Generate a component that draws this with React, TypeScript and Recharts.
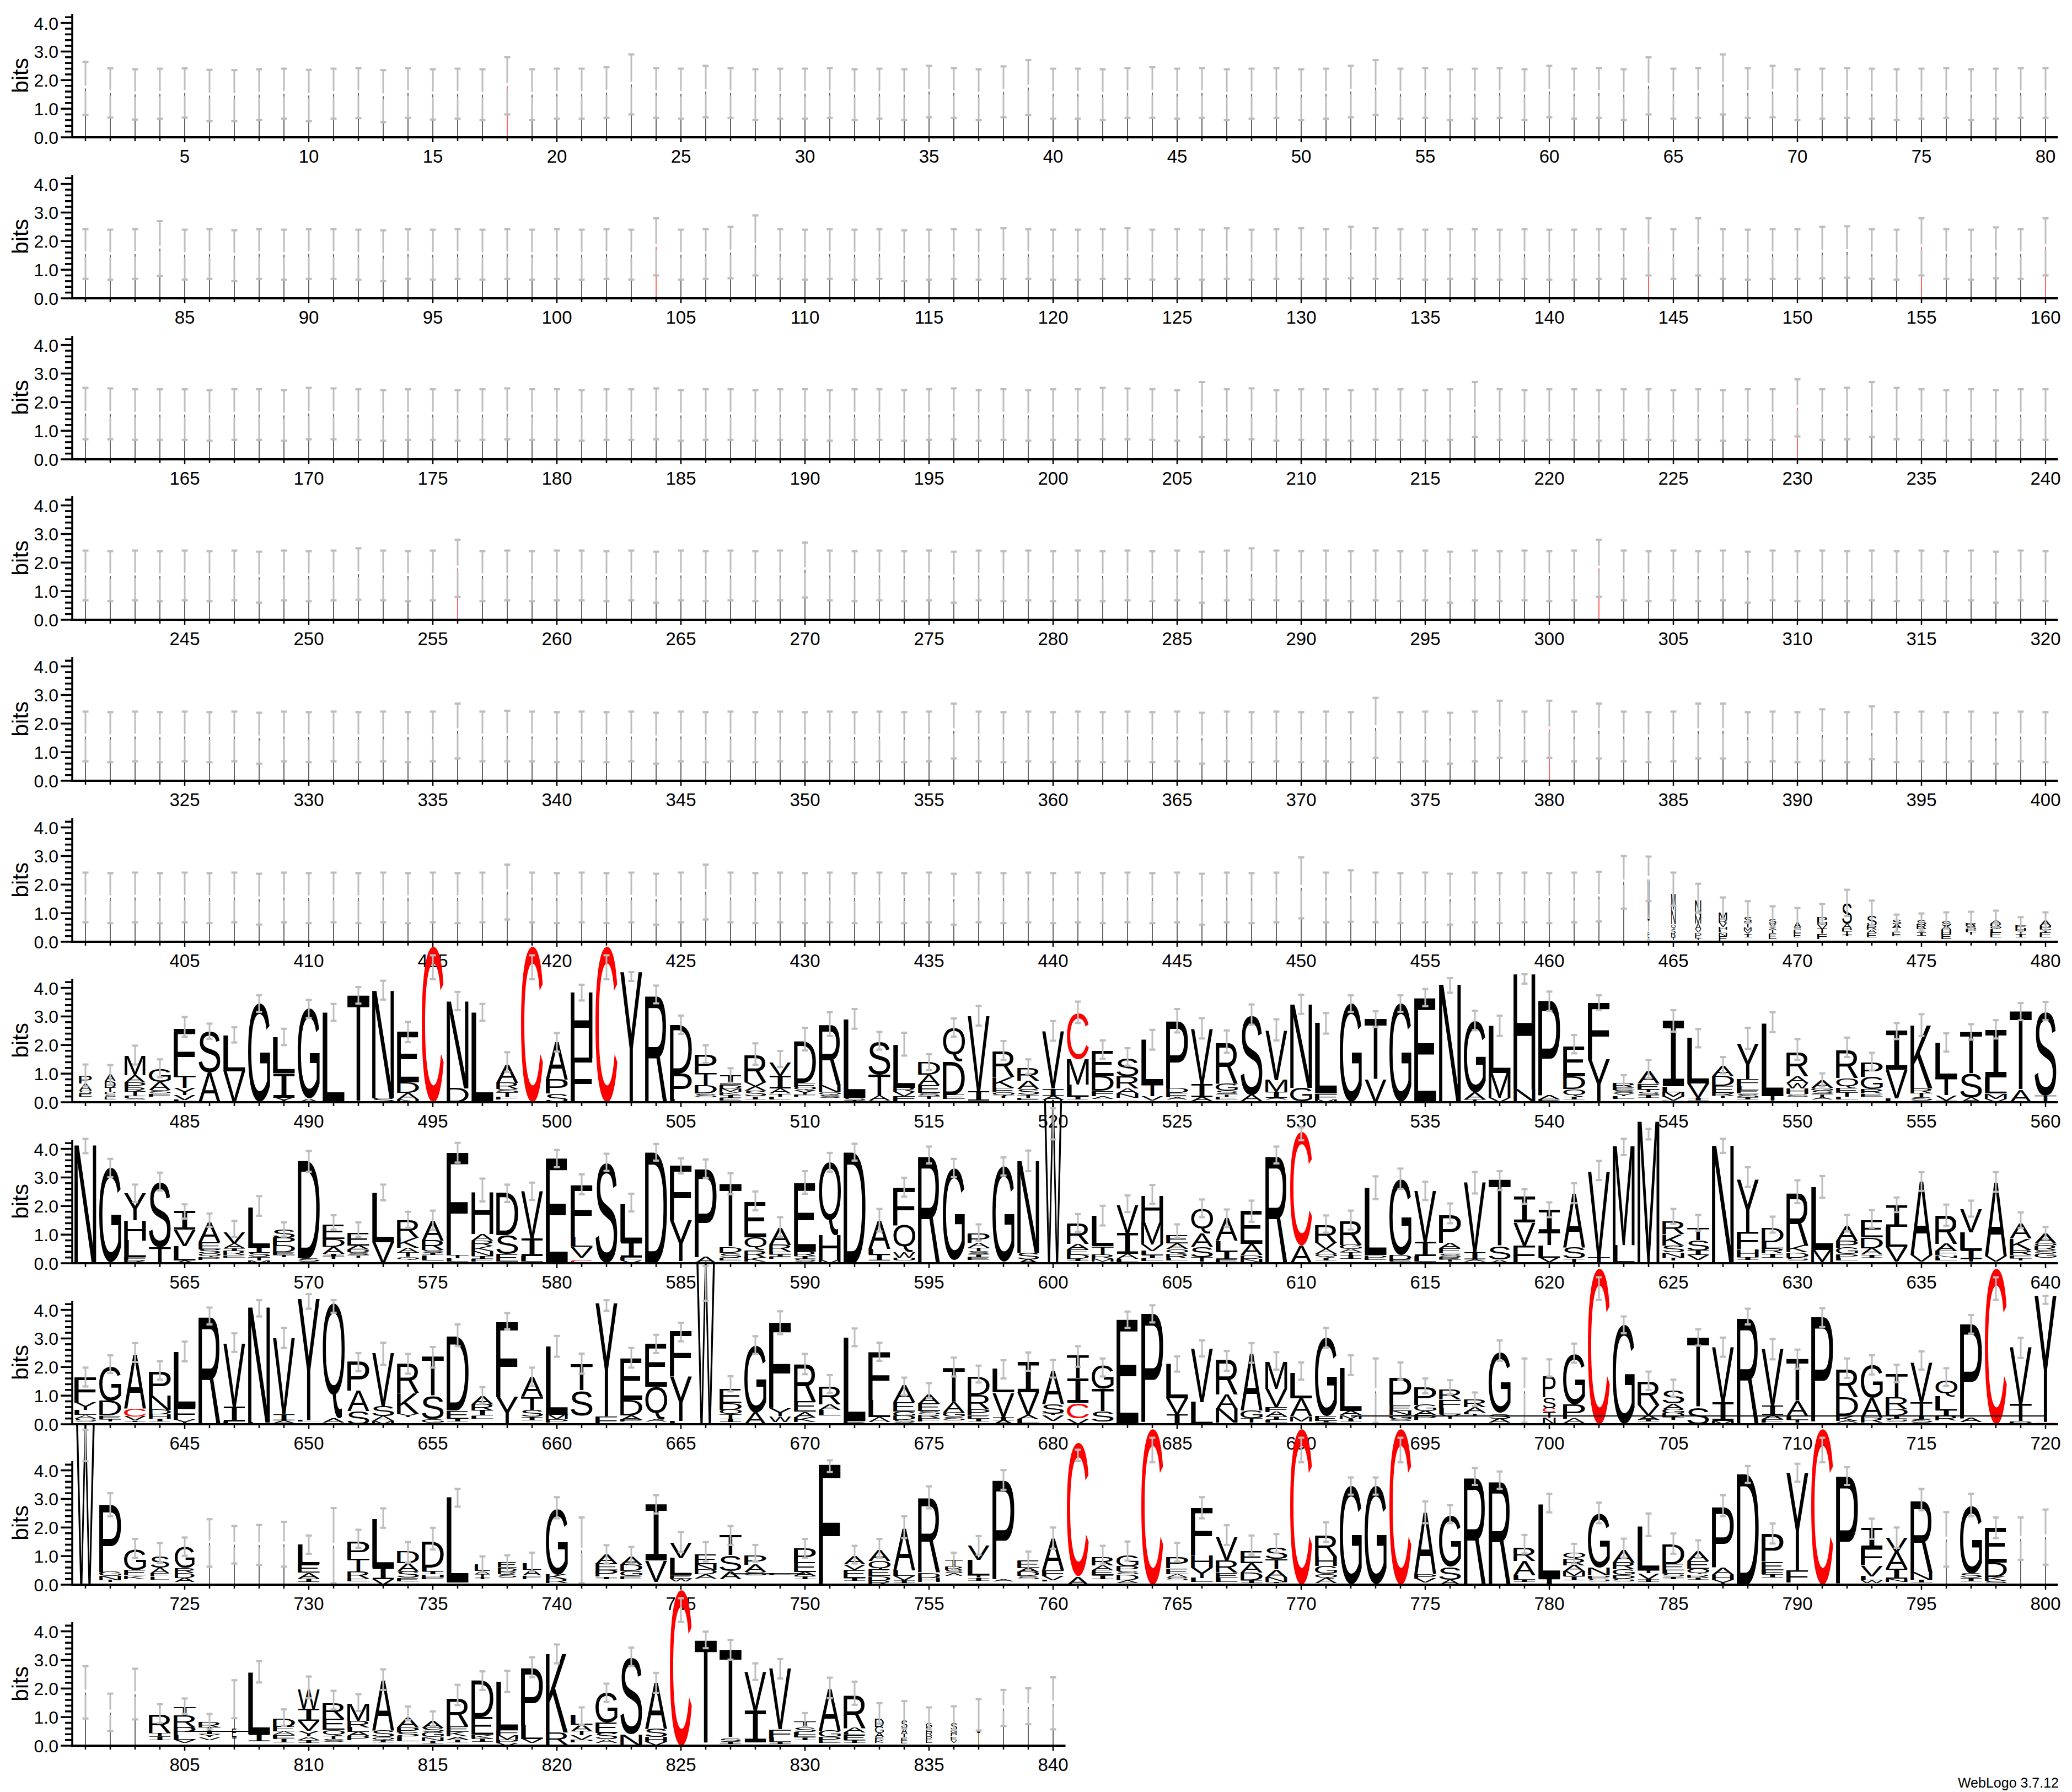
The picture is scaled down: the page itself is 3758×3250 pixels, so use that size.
import React from "react";
import { BarChart, Bar, XAxis, YAxis, ReferenceLine } from "recharts";

// ---- sparse columns: error bar caps, rows 1-6 ----
const errHighRow1 = [
  2.64,2.41,2.38,2.40,2.41,2.36,2.35,2.38,2.40,2.36,
  2.40,2.42,2.35,2.42,2.38,2.40,2.38,2.80,2.38,2.40,
  2.40,2.45,2.90,2.42,2.40,2.50,2.42,2.38,2.40,2.40,
  2.42,2.38,2.40,2.38,2.50,2.42,2.38,2.48,2.70,2.40,
  2.40,2.38,2.42,2.45,2.40,2.42,2.38,2.40,2.42,2.38,
  2.40,2.50,2.70,2.40,2.42,2.38,2.40,2.42,2.38,2.50,
  2.40,2.42,2.38,2.80,2.40,2.42,2.90,2.42,2.50,2.38,
  2.40,2.42,2.40,2.38,2.40,2.42,2.38,2.40,2.42,2.42];
const errLowRow1 = [
  .78,.69,.62,.65,.69,.56,.56,.60,.65,.56,
  .65,.67,.53,.68,.62,.65,.60,.80,.60,.65,
  .65,.68,.80,.68,.65,.70,.68,.60,.65,.65,
  .68,.60,.65,.60,.70,.68,.60,.70,.78,.65,
  .65,.60,.68,.68,.65,.68,.60,.65,.68,.60,
  .65,.70,.78,.65,.68,.60,.65,.68,.60,.70,
  .65,.68,.60,.80,.65,.68,.80,.68,.70,.60,
  .65,.68,.65,.60,.65,.68,.60,.65,.68,.68];
const errHighRow2 = [
  2.42,2.40,2.42,2.70,2.40,2.42,2.38,2.42,2.40,2.42,
  2.42,2.40,2.38,2.42,2.40,2.42,2.40,2.42,2.40,2.42,
  2.40,2.42,2.40,2.80,2.40,2.42,2.50,2.90,2.42,2.40,
  2.42,2.40,2.42,2.38,2.40,2.42,2.40,2.45,2.42,2.40,
  2.40,2.42,2.45,2.40,2.42,2.40,2.45,2.40,2.42,2.45,
  2.42,2.50,2.45,2.42,2.40,2.42,2.42,2.40,2.42,2.40,
  2.40,2.42,2.42,2.80,2.42,2.80,2.42,2.40,2.42,2.42,
  2.50,2.52,2.42,2.40,2.80,2.42,2.40,2.48,2.42,2.80];
const errLowRow2 = [
  .68,.65,.68,.78,.65,.68,.60,.68,.65,.68,
  .68,.65,.60,.68,.65,.68,.65,.68,.65,.68,
  .65,.68,.65,.80,.65,.68,.70,.80,.68,.65,
  .68,.65,.68,.60,.65,.68,.65,.68,.68,.65,
  .65,.68,.68,.65,.68,.65,.68,.65,.68,.68,
  .68,.70,.68,.68,.65,.68,.68,.65,.68,.65,
  .65,.68,.68,.80,.68,.80,.68,.65,.68,.68,
  .70,.72,.68,.65,.80,.68,.65,.70,.68,.80];
const errHighRow3 = [
  2.50,2.48,2.45,2.45,2.45,2.42,2.45,2.45,2.42,2.50,
  2.48,2.45,2.42,2.45,2.45,2.42,2.45,2.48,2.45,2.45,
  2.42,2.45,2.45,2.48,2.42,2.45,2.45,2.42,2.45,2.45,
  2.42,2.45,2.45,2.42,2.45,2.48,2.42,2.45,2.42,2.45,
  2.45,2.50,2.48,2.45,2.42,2.70,2.45,2.48,2.42,2.45,
  2.45,2.42,2.45,2.45,2.42,2.45,2.70,2.45,2.42,2.45,
  2.45,2.42,2.45,2.45,2.42,2.45,2.42,2.45,2.45,2.80,
  2.45,2.50,2.70,2.50,2.45,2.42,2.45,2.42,2.45,2.45];
const errLowRow3 = [
  .70,.70,.68,.68,.68,.65,.68,.68,.65,.70,
  .70,.68,.65,.68,.68,.65,.68,.70,.68,.68,
  .65,.68,.68,.70,.65,.68,.68,.65,.68,.68,
  .65,.68,.68,.65,.68,.70,.65,.68,.65,.68,
  .68,.70,.70,.68,.65,.78,.68,.70,.65,.68,
  .68,.65,.68,.68,.65,.68,.78,.68,.65,.68,
  .68,.65,.68,.68,.65,.68,.65,.68,.68,.80,
  .68,.70,.78,.70,.68,.65,.68,.65,.68,.68];
const errHighRow4 = [
  2.42,2.40,2.42,2.40,2.42,2.40,2.42,2.38,2.42,2.40,
  2.42,2.50,2.42,2.40,2.42,2.80,2.40,2.42,2.40,2.42,
  2.42,2.40,2.42,2.38,2.42,2.40,2.42,2.40,2.42,2.70,
  2.42,2.40,2.42,2.40,2.42,2.38,2.42,2.40,2.42,2.40,
  2.42,2.40,2.42,2.40,2.42,2.38,2.42,2.50,2.42,2.40,
  2.42,2.40,2.42,2.40,2.42,2.38,2.42,2.40,2.42,2.40,
  2.42,2.80,2.42,2.40,2.42,2.40,2.42,2.38,2.42,2.40,
  2.42,2.40,2.42,2.40,2.42,2.40,2.42,2.38,2.42,2.40];
const errLowRow4 = [
  .68,.65,.68,.65,.68,.65,.68,.60,.68,.65,
  .68,.70,.68,.65,.68,.80,.65,.68,.65,.68,
  .68,.65,.68,.60,.68,.65,.68,.65,.68,.78,
  .68,.65,.68,.65,.68,.60,.68,.65,.68,.65,
  .68,.65,.68,.65,.68,.60,.68,.70,.68,.65,
  .68,.65,.68,.65,.68,.60,.68,.65,.68,.65,
  .68,.80,.68,.65,.68,.65,.68,.60,.68,.65,
  .68,.65,.68,.65,.68,.65,.68,.60,.68,.65];
const errHighRow5 = [
  2.42,2.40,2.42,2.40,2.42,2.40,2.42,2.38,2.42,2.40,
  2.42,2.40,2.42,2.40,2.42,2.70,2.42,2.45,2.42,2.40,
  2.42,2.40,2.42,2.38,2.42,2.40,2.42,2.40,2.42,2.40,
  2.42,2.40,2.42,2.40,2.42,2.70,2.42,2.40,2.42,2.40,
  2.42,2.40,2.42,2.40,2.42,2.38,2.42,2.40,2.42,2.40,
  2.42,2.40,2.90,2.40,2.42,2.38,2.42,2.80,2.42,2.80,
  2.42,2.70,2.42,2.40,2.42,2.70,2.70,2.40,2.42,2.40,
  2.50,2.40,2.60,2.40,2.42,2.40,2.42,2.38,2.42,2.40];
const errLowRow5 = [
  .68,.65,.68,.65,.68,.65,.68,.60,.68,.65,
  .68,.65,.68,.65,.68,.78,.68,.68,.68,.65,
  .68,.65,.68,.60,.68,.65,.68,.65,.68,.65,
  .68,.65,.68,.65,.68,.78,.68,.65,.68,.65,
  .68,.65,.68,.65,.68,.60,.68,.65,.68,.65,
  .68,.65,.80,.65,.68,.60,.68,.80,.68,.80,
  .68,.78,.68,.65,.68,.78,.78,.65,.68,.65,
  .70,.65,.75,.65,.68,.65,.68,.60,.68,.65];
const errHighRow6 = [
  2.42,2.40,2.42,2.40,2.42,2.40,2.42,2.38,2.42,2.40,
  2.42,2.40,2.42,2.40,2.42,2.40,2.42,2.70,2.42,2.40,
  2.42,2.40,2.42,2.38,2.42,2.70,2.42,2.40,2.42,2.40,
  2.42,2.40,2.42,2.40,2.42,2.38,2.42,2.40,2.42,2.40,
  2.42,2.40,2.42,2.40,2.42,2.38,2.42,2.40,2.42,2.95,
  2.42,2.50,2.42,2.40,2.42,2.38,2.42,2.40,2.42,2.40,
  2.42,2.45,3.00,2.98,2.42,2.03,1.55,1.42,1.24,1.18,
  1.32,1.82,1.44,.95,.99,1.03,1.05,1.09,.86,1.03];
const errLowRow6 = [
  .68,.65,.68,.65,.68,.65,.68,.60,.68,.65,
  .68,.65,.68,.65,.68,.65,.68,.78,.68,.65,
  .68,.65,.68,.60,.68,.78,.68,.65,.68,.65,
  .68,.65,.68,.65,.68,.60,.68,.65,.68,.65,
  .68,.65,.68,.65,.68,.60,.68,.65,.68,.82,
  .68,.70,.68,.65,.68,.60,.68,.65,.68,.65,
  .68,.71,1.16,1.43,1.26,1.02,.80,.66,.53,.44,
  .64,.90,.57,.35,.39,.46,.42,.52,.37,.41];

// stacks at the tail of row 6 (bottom to top; "_" is a run too thin to see, "|" a hairline column)
const row6TailStacks = [
  "|2.1","G.16 E.2 T.42 M1.4",
  "_.05 T.1 B.14 S.16 Q.16 N.5 M.57","_.06 T.06 E.1 D.1 V.12 A.2 M.26 N.55",
  "_.02 E.18 N.12 L.1 H.1 V.14 R.12 M.24","_.16 I.12 V.1 M.12 T.18 S.2","_.1 E.2 T.12 X.1 V.12 S.16","_.16 E.14 L.1 S.1 A.2",
  "_.1 F.18 T.16 V.14 M.12 P.17","_.2 I.07 T.09 P.1 A.16 S.72","_.16 E.14 A.12 R.14 S.36","_.2 E.14 T.14 A.14 S.14",
  "_.22 I.12 T.12 R.14 S.14","_.1 E.16 H.16 A.14 S.14","_.24 T.1 F.1 S.1 R.12","_.16 E.16 L.12 Q.1 R.1 A.12",
  "_.16 I.12 T.1 H.1 F.1","_.16 E.16 T.12 P.12 A.2"];
const hairlineCysteines = [18, 104, 144, 155, 160, 230, 256, 302, 380];

// ---- dense rows: stacks, bottom to top ----
const row7Stacks = [
  "_.19 E.12 S.1 A.24 P.28","_.1 E.1 S.08 P.08 T.15 D.22 A.25","_.1 S.06 F.06 T.14 R.16 P.18 A.25 M.66","_.2 F.1 S.12 A.29 G.46","_.03 L.05 V.17 Y.24 T.42 F1.65","A1.04 S1.45","V1.08 L1.27","G3.44","Y.16 I.86 L1.25","A.12 G3.14",
  "L3.14","T3.74","S.14 N3.76","N.1 A.22 D.38 E1.77","C5.45","D.48 N3.04","L3.14","_.1 F.1 T.14 S.12 R.22 A.65","C5.45","S.3 P.5 A1.3",
  "F1.55 H2.29","C5.45","Y4.56","R3.76","L.12 P.88 D1.7","_.18 S.12 D.3 T.43 P.65","_.06 E.1 I.1 K.1 M.12 D.13 I.32","_.1 I.1 S.2 X.3 R.95","_.1 L.1 T.1 A.18 I.45 V.47","_.2 F.07 Y.14 Q.12 E.14 D1.45",
  "_.15 S.1 Q.1 N.24 R2.12","T.06 S.1 L2.75","S.06 A.16 T.75 S1.15","_.03 F.18 V.15 R.14 L1.5","_.12 T.1 S.1 E.28 A.36 D.44","_.12 E.14 D1.17 Q1.18","_.05 I.32 V2.65","_.15 T.08 Q.12 E.15 K.38 R.9","_.08 E.08 T.1 S.2 A.3 R.45","_.08 A.14 I.26 V2",
  "_.1 I.1 L.42 M.88 C1.6","_.12 A.1 F.18 D.52 E.85","C.04 _.12 N.14 A.18 R.42 S.65","_.05 V.15 T.43 L1.55","_.1 A.07 E.15 D.16 P2.35","_.04 A.14 I.46 V1.93","_.1 E.1 T.08 S.12 G.26 R1.42","_.04 A.22 S2.8","_.1 A.06 I.2 M.42 V1.73","_.03 G.48 N2.92",
  "M.1 F.2 L2.46","G3.44","V.78 T2.12","G3.44","E3.64","N4.12","T.1 A.25 G2.5","V.15 M.87 L1.65","_.04 N.42 H4.02","_.04 E.06 A.14 P3.3",
  "_.1 I.1 Q.26 D.44 E1.03","Y1.5 F1.97","_.12 L.1 Y.1 S.1 E.1 R.14","_.15 I.1 S.12 T.08 E.2 A.45","F.05 V.14 M.16 L.2 I2.3","_.05 I.1 V.5 L1.6","_.15 T.08 R.1 E.24 D.34 A.36","_.1 I.07 S.13 E.12 L.15 F.22 Y1.27","_.05 T.18 L2.52","_.2 S.08 H.2 W.2 A.22 R.85",
  "_.1 A.08 T.1 S.12 G.1 A.26","_.1 L.1 T.14 E.14 Q.36 R.97","_.2 E.1 R.16 G.42 P.48","_.02 L.12 V.99 I1.37","_.05 S.12 T.14 R.18 K2.2","_.03 I.03 V.18 T.62 L1.22","A.16 S.84 T1.44","V.12 M.18 L.56 I1.65","A.42 T2.75","T.22 S2.96"];
const row7Err = [
  [.55,1.32],[.6,1.3],[1.32,1.98],[.87,1.5],[2.29,2.98],[2.22,2.75],[2.09,2.62],[3.16,3.74],[2,2.57],[2.95,3.58],
  [2.85,3.44],[3.45,4.03],[3.59,4.25],[2.1,2.81],[4.3,5.14],[3.22,3.86],[2.85,3.44],[1.06,1.75],[4.3,5.14],[1.77,2.42],
  [3.56,4.11],[4.3,5.14],[4.24,4.55],[3.46,4.08],[2.39,3.03],[1.37,1.99],[.68,1.19],[1.31,2.06],[1.23,1.79],[1.81,2.6],
  [2.32,3.15],[2.57,3.26],[1.84,2.46],[1.63,2.43],[1.12,1.68],[2.29,2.93],[2.68,3.37],[1.48,2.14],[.99,1.5],[2.15,2.84],
  [2.77,3.52],[1.52,2.16],[1.28,1.89],[1.84,2.53],[2.44,3.26],[2.23,2.94],[1.73,2.51],[2.71,3.42],[2.16,2.9],[3.09,3.76],
  [2.4,3.12],[3.16,3.74],[2.63,3.18],[3.16,3.74],[3.36,3.96],[3.83,4.34],[2.52,3.2],[2.32,3.03],[4.15,4.48],[3.19,3.87],
  [1.71,2.35],[3.22,3.74],[.46,.95],[.84,1.48],[2.47,3.22],[1.92,2.56],[1.01,1.58],[1.86,2.6],[2.45,3.15],[1.48,2.21],
  [.55,1.01],[1.58,2.26],[1.11,1.73],[2.21,2.77],[2.32,3.08],[1.77,2.41],[2.19,2.73],[2.23,2.87],[2.87,3.47],[2.87,3.51]];

const row8Stacks = [
  "N4.13","_.04 G3.3","R.12 F.1 L.58 H.7 Y.93","T.57 S2.28","A.1 L.5 V.57 I.65","_.12 P.1 Q.12 S.15 E.24 A.7","_.2 E.08 R.14 I.1 A.18 V.4","M.1 T.12 S.14 I.18 L1.4","_.22 T.07 E.1 D.24 P.26 S.3","_.05 S.12 D3.4",
  "_.15 T.1 I.08 A.25 D.26 E.5","_.2 T.08 S.1 D.1 A.14 E.45","V.74 L1.72","_.12 Q.1 T.14 A.18 K.34 R.62","_.1 L.18 I.08 S.1 R.34 A.68","_.05 L.12 T.12 F3.58","_.06 F.1 I.1 N.16 K.18 R.2 A.22 H1.45","_.06 E.26 S.66 D1.48","_.05 L.2 I.62 V1.66","E3.67",
  "C.12 _.08 V.38 L.34 F1.8","S3.52","V.1 F.12 I.53 L1.32","D3.88","_.08 Y1.42 F1.9","A.22 P3.07","_.1 E.1 S.16 D.2 T2.2","_.06 K.14 R.26 Q.44 E1.24","_.15 F.08 I.07 E.1 R.24 A.6","_.05 S.1 I.1 R.16 E2.4",
  "M.12 H.85 Q2.55","D3.88","_.1 I.2 L.2 A.98","_.1 U.1 W.2 Q.94 F1.32","R3.78","_.1 G3.2","_.12 E.1 I.1 S.1 T.12 A.18 P.32","_.05 G3.33","A.14 S.22 N3.2","W5.75",
  "_.08 I.08 D.14 E.18 A.2 R.72","_.05 M.1 R.14 T.3 L1.07","_.04 L.12 A.16 I.72 V.98","_.07 L.1 I.12 L.14 V.22 M.76 H.93","_.1 L.08 R.16 Q.16 A.2 E.3","_.05 T.16 S.36 A.46 Q.85","_.03 E.1 I.28 L.38 A.8","_.04 N.12 D.12 A.4 E1.15","R3.78","A.62 C3.98",
  "_.1 I.1 Q.12 A.18 V.22 R.63","_.15 I.13 T.1 A.12 G.14 R.85","_.12 E.08 D.08 L2.35","_.06 E.06 D.18 G2.65","_.05 L.2 I.5 V1.77","_.06 T.08 R.08 S.12 E.18 A.2 P.97","_.05 A.08 I.25 V2.44","A.13 S.46 T2.32","F.62 V.8 I.9","_.04 V.16 L.42 T.48 I.78",
  "C.03 T.13 S.4 A1.88","_.02 T.2 V3.0","L.63 M3.47","M4.96","_.1 T.1 N.18 S.24 K.4 R.45","_.12 V.16 I.16 S.36 T.42","N4.12","_.12 I.1 H.28 F.6 Y1.82","_.2 I.14 R.18 L.22 D.5","_.1 S.1 D.18 K.24 R1.85",
  "_.04 M.42 L2.2","_.1 L.1 P.12 G.22 P.24 A.55","_.2 I.1 A.22 D.38 E.6","_.06 V.52 L.7 I.75","_.06 V.22 A2.57","_.1 L.1 N.08 F.14 A.26 R1","_.06 T.1 I.3 L.62 V.82","_.05 V.2 A2.57","_.1 T.08 F.1 R.18 K.4 A.52","_.2 G.14 S.12 R.14 Q.1 A.35"];
const row8Err = [
  [3.85,4.35],[3.01,3.65],[2.14,2.75],[2.54,3.17],[1.56,2.06],[1.27,1.74],[.92,1.48],[1.66,2.35],[.93,1.43],[3.2,3.93],
  [1.18,1.68],[.92,1.43],[2.2,2.75],[1.24,1.8],[1.16,1.84],[3.52,4.21],[2.16,2.96],[2.14,2.75],[2.21,2.82],[3.36,3.96],
  [2.41,3.11],[3.23,3.83],[1.81,2.43],[3.59,4.17],[3.14,3.67],[2.98,3.63],[2.41,3.15],[1.85,2.51],[.92,1.61],[2.43,3.22],
  [3.2,3.86],[3.59,4.18],[1.11,1.9],[2.33,2.99],[3.49,4.08],[3.01,3.65],[.79,1.36],[3.07,3.7],[3.22,3.94],[4.33,5.42],
  [1.1,1.72],[1.32,2.01],[1.79,2.37],[2.08,2.74],[.89,1.36],[1.61,2.23],[1.27,1.88],[1.45,2.19],[3.49,4.08],[4.3,4.75],
  [1.07,1.67],[1.18,1.84],[2.24,3.04],[2.6,3.31],[2.21,2.85],[1.4,2.09],[2.44,3.19],[2.56,3.22],[2.08,2.59],[1.61,2.13],
  [2.1,2.8],[2.91,3.58],[3.78,4.35],[4.33,4.7],[1.38,1.9],[1.14,1.69],[3.86,4.35],[2.67,3.36],[1.07,1.63],[2.1,2.9],
  [2.29,3.05],[1.11,1.69],[1.24,1.86],[1.79,2.3],[2.53,3.19],[1.31,2.05],[1.63,2.19],[2.5,3.19],[1.23,1.78],[.84,1.27]];

const row9Stacks = [
  "_.1 S.1 A.12 L.18 Y.26 F.88","_.1 T.08 E.12 D.52 G1.2","_.08 I.05 V.14 C.28 A1.87","_.1 I.1 H.14 D.16 N.5 P.83","Y.16 F.42 L1.95","R3.79","L.1 I.52 V2.2","L.06 N4.03","_.04 A.1 I.22 V2.65","C.03 _.06 L.05 Y4.25",
  "_.05 A.15 Q4.03","S.46 A.72 P1","M.12 A.16 S.36 V1.85","_.25 Y.12 K.72 R1.02","_.06 G.12 S.8 T1.38","_.1 I.1 E.28 D2.6","_.2 L.1 I.18 R.22 A.3","Y.95 F2.63","_.14 I.12 S.22 T.48 A.7","_.05 P.12 M.16 L2.4",
  "_.3 S.88 T.92","F.28 Y3.96","_.1 F.06 A.14 D.55 E1.45","_.1 A.06 Q1.15 E1.5","L.12 Y1.55 F1.58","W5.7","_.07 I.12 T.14 Q.18 D.22 E.5","A.42 G2.35","_.08 W.2 Y.28 F3","_.08 K.16 A.2 E.36 R1.33",
  "_.3 L.2 A.2 R.62","_.04 E.08 L2.91","_.08 A.18 L.58 F1.67","_.05 S.1 D.14 G.16 E.33 A.6","_.1 F.12 R.12 S.12 E.26 A.33","C.04 _.1 S.12 G.14 A.36 T1.2","_.1 I.1 E.12 P.2 R.5 D.65","A.14 I.12 V.85 L.84","_.04 L.14 A.14 V.8 I1.05","_.12 V.2 T.05 S.32 A1.17",
  "V.16 _.04 C.5 _.05 I.86 T.8","_.1 S.36 T.78 G.82","E3.66","_.08 P3.79","I.34 V.56 L1.2","L.78 V1.87","_.05 N.48 A.52 R1.22","_.06 T.14 G.28 A1.98","_.05 L.1 I.12 A.16 F.16 V.65 M.93","_.1 M.18 A.62 L.88",
  "_.06 I.06 E.16 G2.74","_.1 I.1 M.12 A.14 L1.5","|1.15","_.12 S.06 G.14 N.14 E.2 P.95","_.16 P.16 A.14 G.22 P.62","_.2 Y.14 L.22 F.3 R.34","_.28 T.06 L.06 A.2 R.28","_.05 A.14 S.16 _.05 G2.1","|1.15","N.22 T.2 C.14 S.38 P.75",
  "_.03 A.16 P.5 G1.76","C5.45","G3.47","_.1 I.06 A.15 V.36 R.82","_.15 T.1 D.14 G.14 A.2 S.46","S.6 T2.42","M.12 I.66 V1.92","R3.75","_.06 F.12 A.14 I.32 V1.99","_.06 T.1 L.12 A.52 T1.47",
  "_.1 P3.65","_.06 A.06 K.18 D.64 R.98","_.05 R.18 A.7 G1.15","_.1 S.1 I.1 D.22 R.42 T.82","_.06 S.12 I.12 T.48 V1.38","_.14 R.14 I.2 L.48 Q.56","_.08 A.14 P3.28","C5.45","P.1 T.6 V2","C.04 _.04 Y4.42"];
const row9Err = [
  [1.32,1.98],[1.79,2.41],[2.18,2.84],[1.56,2.2],[2.2,2.89],[3.49,4.08],[2.53,3.18],[3.77,4.34],[2.67,3.37],[4.04,4.55],
  [3.9,4.34],[1.86,2.49],[2.08,2.85],[1.77,2.46],[1.98,2.7],[2.73,3.49],[.74,1.3],[3.32,3.89],[1.34,1.98],[2.36,3.09],
  [1.77,2.47],[3.97,4.34],[1.98,2.67],[2.49,3.13],[2.9,3.55],[4.32,5.53],[1.15,1.68],[2.46,3.08],[3.15,3.95],[1.75,2.46],
  [1.1,1.72],[2.73,3.35],[2.22,2.85],[1.01,1.63],[.91,1.44],[1.67,2.33],[1.46,2.05],[1.6,2.24],[1.87,2.51],[1.63,2.25],
  [2.01,2.73],[1.67,2.3],[3.37,3.94],[3.56,4.16],[1.84,2.37],[2.37,2.93],[1.87,2.56],[2.15,2.84],[1.91,2.52],[1.56,2.16],
  [2.67,3.37],[1.72,2.41],[.05,2.3],[1.56,2.16],[1.08,1.6],[1.05,1.54],[.63,1.11],[2.22,2.93],[.05,2.3],[1.67,2.27],
  [2.15,2.82],[4.35,5.14],[3.18,3.77],[1.2,1.84],[.96,1.56],[2.75,3.32],[2.36,3.03],[3.49,4.04],[2.27,2.98],[1.94,2.61],
  [3.4,4.06],[1.62,2.3],[1.74,2.41],[1.47,2.08],[1.91,2.55],[1.34,1.96],[3.17,3.82],[4.35,5.14],[2.32,3.02],[4.21,4.49]];

const row10Stacks = [
  "W5.6","_.1 T.06 N.14 G.14 P2.35","_.2 K.12 E.2 G.7","_.18 L.1 F.12 A.2 S.4","_.1 A.14 D.16 R.18 G.74","|1.46","|1.4","|1.39","|1.41","_.1 I.12 A.2 E.3 L.68",
  "|1.36","_.12 E.1 R.24 T.44 P.6","V.2 I.4 L1.7","_.12 E.12 S.22 A.3 D.42","_.2 F.06 H.1 I.1 L.14 D.9","_.08 L3.0","_.2 I.06 T.1 A.12 L.22","_.25 S.12 R.1 D.12 E.2","_.2 F.12 A.2 L.22","_.05 R.14 K.16 G2.3",
  "|1.2","_.2 I.08 P.22 E.24 A.33","_.2 E.1 G.18 D.22 A.3","_.1 V.74 I1.95","_.12 W.1 E.12 L.58 V.55","_.22 A.14 D.16 N.2 E.35","_.2 A.28 S.55 T.71","_.32 S.12 A.26 P.33","_.35 L.04","_.2 I.1 A.14 E.34 P.5",
  "F4.2","C.03 _.1 I.1 E.3 V.18 A.3","R.14 D.14 _.02 E.22 Q.3 A.4","_.06 I.1 V.14 L.2 A1.45","_.1 H.14 D.18 R2.62","_.3 A.1 S.12 R.12 T.22","_.14 I.1 T.08 L.55 V.48","_.12 A.08 P3.44","_.2 S.1 D.14 A.14 E.26","_.12 L.04 V.14 F.2 A1.1",
  "A.26 _.04 C4.67","_.2 I.15 E.16 A.16 R.3","_.06 A.1 D.2 S.12 P.16 G.4","C5.45","_.15 S.1 A.12 E.2 P.4","_.1 L.14 Y.36 H.42 F1.66","_.1 L.14 E.18 R.42 V.82","_.05 I.1 D.28 A.32 E.42","_.05 I.05 N.16 A.28 T.36 S.42","C5.45",
  "_.05 A.16 Q.17 G.28 H.32 R.76","G3.44","G3.44","C5.45","_.08 V.14 P.14 A2.15","A.16 S.44 _.04 G1.78","R3.78","R3.64","_.1 I.08 L.14 A.5 R.48","I.22 L2.6",
  "_.15 I.15 M.16 A.22 R.22 Q.22","_.12 S.1 P.1 N.28 G1.87","_.12 S.1 D.12 G.2 R.24 A.44","_.1 I.1 V.2 T.1 L1.52","_.2 I.08 S.1 L.12 E.22 D.68","_.18 I.08 R.1 Q.2 E.26 A.34","Y.18 H.16 A.24 _.04 P2.1","D3.87","_.25 I.12 F.14 E.3 P.95","_.08 F.42 Y3.4",
  "C5.45","_.05 P3.73","_.05 W.1 L.14 V.38 F.62 I.68","_.1 N.12 I.34 A.58 V.5","_.08 I.1 N.26 R2.5","|1.58","_.12 I.12 S.16 G2.37","_.05 S.08 K.14 D.5 E1.22","|1.6","|1.66"];
const row10Err = [
  [4.32,5.42],[2.39,3.2],[.94,1.6],[.77,1.46],[1.01,1.65],[.63,2.29],[.74,2.05],[.69,2.09],[.63,2.2],[1.08,1.72],
  [.05,2.68],[1.29,1.92],[1.99,2.67],[.77,1.49],[1.23,1.99],[2.73,3.35],[.43,.99],[.43,1.03],[.46,1.12],[2.32,3.06],
  [.05,2.35],[.74,1.38],[.74,1.32],[2.49,3.13],[1.15,1.84],[.81,1.49],[1.39,2.05],[.81,1.39],[.39,.39],[.94,1.6],
  [3.94,4.35],[.74,1.36],[.94,1.6],[1.63,2.39],[2.67,3.44],[.53,1.12],[1.05,1.7],[3.32,4.01],[.52,1.16],[1.25,2],
  [4.32,4.72],[.74,1.36],[.84,1.51],[4.28,5.14],[.81,1.46],[2.32,3.06],[1.39,2.08],[1.05,1.72],[1.12,1.77],[4.28,5.14],
  [1.49,2.18],[3.15,3.75],[3.15,3.75],[4.28,5.14],[2.15,2.91],[2.15,2.78],[3.49,4.08],[3.35,3.96],[1.09,1.74],[2.53,3.18],
  [.74,1.43],[2.15,2.87],[.94,1.61],[1.7,2.49],[1.08,1.79],[.94,1.55],[2.39,3.13],[3.56,4.15],[1.44,2.14],[3.6,4.23],
  [4.28,5.14],[3.49,4.11],[1.6,2.31],[1.29,2],[2.6,3.35],[.63,2.54],[2.39,3.18],[1.63,2.35],[.87,2.35],[.7,2.63]];

const row11Stacks = [
  "|1.86","|1.16","|1.8","_.2 I.15 T.1 R.65","_.1 V.12 L.16 P.26 R.42 T.3","_.2 V.1 Y.1 I.1 T.14 R.2","T.3 E.3 |1","_.15 I.26 L2.15","_.12 I.14 F.12 A.12 E.16 D.3","_.1 I.1 A.12 Y.2 V.35 I.42 W.66",
  "C.03 _.1 S.1 T.12 Q.2 E.4 R.55","_.2 P.14 A.14 L.16 R.22 M.6","_.12 I.08 Q.1 S.22 A1.76","_.16 L.16 S.14 P.18 A.34","_.08 I.1 N.12 G.18 S.14 A.24","_.12 I.1 A.1 K.16 E.2 R.98","_.14 I.12 K.12 E.62 D1.28","V.1 P.12 M.14 F.2 L1.68","_.1 V.14 L.48 P2","_.04 R.42 K2.74",
  "_.12 P.1 V.14 T.14 A.24 L.34","_.1 A.12 S.22 E.38 G1.03","N.4 S2.7","_.02 V.12 H.16 S.3 A1.6","C5.45","_.06 T3.62","_.06 I.08 S.12 T3.07","_.12 I1.1 V1.36","_.05 I.08 L.14 F.3 V2.13","_.2 I.1 E.08 L.1 S.14 T.22",
  "_.1 E.06 P.14 G.22 A1.45","_.1 I.1 E.18 L.08 A.16 R1.15","_.1 K.1 E.1 A.14 G.22 D.3","_.08 E.1 E.1 I.14 A.2 S.28","_.1 E.12 P.12 R.14 L.16 G.16","_.1 V.1 E.12 P.12 G.12 S.22","T.5 |.6","|1.3","|1.35","|1.45"];
const row11Err = [
  [.95,2.78],[.51,1.82],[.92,2.69],[.79,1.45],[1.11,1.65],[.57,1.11],[.96,2.29],[2.21,2.96],[.69,1.27],[1.66,2.42],
  [1.27,1.92],[1.21,1.8],[1.95,2.67],[.89,1.37],[.68,1.2],[1.42,2.13],[1.95,2.6],[1.88,2.62],[2.39,3.09],[2.88,3.54],
  [.73,1.34],[1.53,2.17],[2.78,3.43],[1.85,2.55],[4.33,5.16],[3.41,3.99],[3.01,3.7],[2.3,2.88],[2.35,3.03],[.66,1.14],
  [1.66,2.38],[1.43,2.24],[.77,1.49],[.6,1.56],[.57,1.34],[.55,1.38],[.53,1.63],[.69,1.95],[.75,2.01],[.57,2.39]];

// column widths that are narrower than a full letter (fraction of a full letter)
const columnWidths: Record<number, number> = {
  463:.05,464:.08,465:.2,466:.28,467:.38,468:.35,469:.35,470:.33,471:.45,472:.45,473:.45,474:.4,475:.43,476:.45,477:.48,478:.5,479:.48,480:.52,
  481:.58,482:.5,483:.95,600:.83,666:.85,700:.58,721:.85,724:.85,725:.9,737:.7,738:.85,739:.85,756:.8,
  807:.2,833:.4,834:.28,835:.28,836:.28,837:.14,838:.07,839:.07,840:.04,
};
const hairlineWidth = 0.03;
const spikes = [
  { row: 8, from: 692, to: 720, y: 0.29 },
  { row: 9, from: 747, to: 750, y: 0.38 },
  { row: 10, from: 805, to: 808, y: 0.5 },
];

const yTicks = [0,.2,.4,.6,.8,1,1.2,1.4,1.6,1.8,2,2.2,2.4,2.6,2.8,3,3.2,3.4,3.6,3.8,4,4.2];
const watermark = "WebLogo 3.7.12";
const FONT = '"Liberation Sans"';
const FULL_LETTER = 40;
const STEP = 45;
const PLOT_LEFT = 132.5;
const PLOT_H = 297;
const BIT = 51.85;
const YMAX = PLOT_H / BIT;
const GREY = "#bdbdbd";

type Row = { pos: number; occ: number; err: [number, number]; letters: string[]; [k: string]: any };

function buildRow(start: number, stacks: string[], err: number[][], thin: boolean): Row[] {
  return err.map((e, i) => {
    const pos = start + i;
    const mid = (e[0] + e[1]) / 2;
    const text = stacks[i] ?? `${hairlineCysteines.includes(pos) ? "C" : "|"}${mid}`;
    const tokens = text.split(" ");
    const row: Row = {
      pos,
      occ: columnWidths[pos] ?? (thin || text[0] === "|" ? hairlineWidth : 1),
      err: [e[0], e[1]],
      letters: tokens.map((t) => t[0]),
    };
    tokens.forEach((t, k) => (row["s" + k] = parseFloat(t.slice(1))));
    return row;
  });
}
const zip = (lo: number[], hi: number[]) => lo.map((l, i) => [l, hi[i]]);

const rows: Row[][] = [
  buildRow(1, [], zip(errLowRow1, errHighRow1), true),
  buildRow(81, [], zip(errLowRow2, errHighRow2), true),
  buildRow(161, [], zip(errLowRow3, errHighRow3), true),
  buildRow(241, [], zip(errLowRow4, errHighRow4), true),
  buildRow(321, [], zip(errLowRow5, errHighRow5), true),
  buildRow(401, [...new Array(62).fill(undefined), ...row6TailStacks], zip(errLowRow6, errHighRow6), true),
  buildRow(481, row7Stacks, row7Err, false),
  buildRow(561, row8Stacks, row8Err, false),
  buildRow(641, row9Stacks, row9Err, false),
  buildRow(721, row10Stacks, row10Err, false),
  buildRow(801, row11Stacks, row11Err, false),
];

const metricsCache: Record<string, { l: number; r: number; a: number; d: number }> = {};
const fontFor = (ch: string) => (ch === "I" ? '"Liberation Mono"' : FONT);
function metrics(ch: string) {
  if (metricsCache[ch]) return metricsCache[ch];
  const ctx = document.createElement("canvas").getContext("2d")!;
  ctx.font = `100px ${fontFor(ch)}`;
  const m = ctx.measureText(ch);
  const res = {
    l: m.actualBoundingBoxLeft,
    r: m.actualBoundingBoxRight,
    a: m.actualBoundingBoxAscent,
    d: m.actualBoundingBoxDescent,
  };
  metricsCache[ch] = res;
  return res;
}

function letterShape(seg: number) {
  return function LetterShape(p: any) {
    const { x, y, width, height, payload } = p;
    const ch: string | undefined = payload?.letters?.[seg];
    if (!ch || ch === "_" || !(height > 0)) return <g />;
    const fill = ch === "C" ? "#ff0000" : "#000000";
    const w = FULL_LETTER * payload.occ;
    const cx = x + width / 2;
    if (w < 3 || ch === "|") {
      return <rect x={cx - 0.6} y={y} width={Math.max(1.2, ch === "|" ? 1.2 : w)} height={height} fill={fill} />;
    }
    const m = metrics(ch);
    const sx = w / (m.l + m.r);
    const sy = height / (m.a + m.d);
    const tx = cx - w / 2 + sx * m.l;
    const ty = y + height - sy * m.d;
    return (
      <text transform={`translate(${tx},${ty}) scale(${sx},${sy})`} fontFamily={fontFor(ch)} fontSize={100} fill={fill}>
        {ch}
      </text>
    );
  };
}

function ErrShape(p: any) {
  const { x, y, width, height, payload } = p;
  if (!(Math.abs(height) > 0.5)) return <g />;
  const top = Math.min(y, y + height);
  const h = Math.abs(height);
  const cx = x + width / 2;
  const gap = payload.occ < 0.1 && h > 40;
  return (
    <g fill={GREY}>
      <rect x={cx - 5.5} y={top - 2} width={11} height={4} />
      <rect x={cx - 5.5} y={top + h - 2} width={11} height={4} />
      {gap ? (
        <>
          <rect x={cx - 1.5} y={top} width={3} height={h / 2 - 5} />
          <rect x={cx - 1.5} y={top + h / 2 + 5} width={3} height={h / 2 - 5} />
        </>
      ) : (
        <rect x={cx - 1.5} y={top} width={3} height={h} />
      )}
    </g>
  );
}

function YTick(p: any) {
  const { y, payload } = p;
  const v: number = payload.value;
  const major = Number.isInteger(v);
  const axisX = PLOT_LEFT - 1.5;
  return (
    <g>
      <rect x={major ? 110 : 118} y={y - 1.75} width={axisX - (major ? 110 : 118)} height={3.5} fill="#000" />
      {v === 0 && <rect x={axisX - 1.75} y={y - 4.32 * BIT} width={3.5} height={4.32 * BIT + 2} fill="#000" />}
      {major && (
        <text x={106} y={y + 12} textAnchor="end" fontFamily={FONT} fontSize={32} fill="#000">
          {v.toFixed(1)}
        </text>
      )}
      {v === 2.2 && (
        <text
          transform={`translate(51,${y + 2}) rotate(-90)`}
          textAnchor="middle"
          fontFamily={FONT}
          fontSize={41}
          fill="#000"
        >
          bits
        </text>
      )}
    </g>
  );
}

function XTick(p: any) {
  const { x, y, payload } = p;
  const v: number = payload.value;
  const major = v % 5 === 0;
  return (
    <g>
      <rect x={x - 1.25} y={y} width={2.5} height={major ? 9 : 7} fill="#000" />
      {major && (
        <text x={x} y={y + 46} textAnchor="middle" fontFamily={FONT} fontSize={33} fill="#000">
          {v}
        </text>
      )}
    </g>
  );
}

function LogoRow({ data, index }: { data: Row[]; index: number }) {
  const segCount = Math.max(...data.map((d) => d.letters.length));
  const segs = Array.from({ length: segCount }, (_, i) => i);
  const baseline = 249.3 + 291.67 * index;
  const plotW = data.length * STEP;
  return (
    <div style={{ position: "absolute", left: 0, top: baseline - PLOT_H }}>
      <BarChart
        width={3758}
        height={PLOT_H + 60}
        data={data}
        barCategoryGap={0}
        barGap={0}
        margin={{ top: 0, left: 0, bottom: 0, right: 3758 - PLOT_LEFT - plotW }}
      >
        <XAxis
          dataKey="pos"
          type="category"
          interval={0}
          height={60}
          tickLine={false}
          tickSize={0}
          tickMargin={0}
          axisLine={{ stroke: "#000", strokeWidth: 4 }}
          tick={XTick}
        />
        <XAxis xAxisId="err" dataKey="pos" type="category" hide />
        <YAxis
          width={PLOT_LEFT}
          type="number"
          domain={[0, YMAX]}
          allowDataOverflow
          ticks={yTicks}
          interval={0}
          tickLine={false}
          axisLine={false}
          tick={YTick}
        />
        {segs.map((k) => (
          <Bar key={k} dataKey={"s" + k} stackId="stack" isAnimationActive={false} shape={letterShape(k)} />
        ))}
        {spikes
          .filter((s) => s.row === index)
          .map((s) => (
            <ReferenceLine
              key={s.from}
              segment={[
                { x: s.from, y: s.y },
                { x: s.to, y: s.y },
              ]}
              stroke="#000"
              strokeWidth={2}
              ifOverflow="visible"
            />
          ))}
        <Bar xAxisId="err" dataKey="err" isAnimationActive={false} shape={ErrShape} />
      </BarChart>
    </div>
  );
}

export default function App() {
  return (
    <div style={{ position: "absolute", left: 0, top: 0, width: 3758, height: 3250, background: "#fff", overflow: "hidden" }}>
      {rows.map((data, i) => (
        <LogoRow key={i} data={data} index={i} />
      ))}
      <div
        style={{
          position: "absolute",
          right: 24,
          top: 3219,
          fontFamily: FONT,
          fontSize: 25,
          lineHeight: "28px",
          color: "#000",
        }}
      >
        {watermark}
      </div>
    </div>
  );
}
